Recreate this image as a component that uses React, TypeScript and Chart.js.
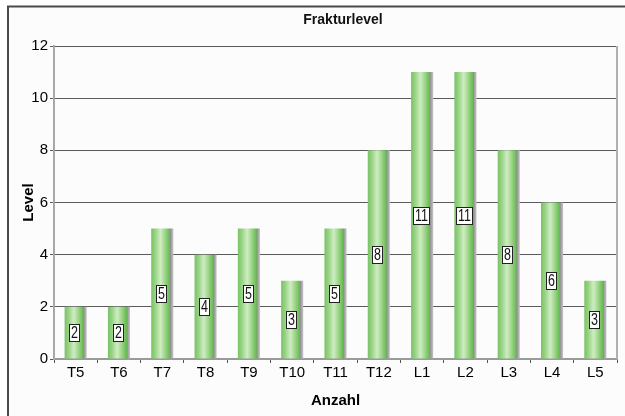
import React, { useEffect, useRef } from "react";
import { Chart, registerables } from "chart.js";

Chart.register(...registerables);

const categories = ["T5", "T6", "T7", "T8", "T9", "T10", "T11", "T12", "L1", "L2", "L3", "L4", "L5"];
const levels = [2, 2, 5, 4, 5, 3, 5, 8, 11, 11, 8, 6, 3];
const yMin = 0;
const yMax = 12;
const yStep = 2;
const chartTitle = "Frakturlevel";
const xTitle = "Anzahl";
const yTitle = "Level";

const FONT = "'Liberation Sans', Arial, Helvetica, sans-serif";
const BAR_PCT = 0.51;

function barGradient(c: any) {
  const chart = c.chart;
  const area = chart.chartArea;
  const xs = chart.scales && chart.scales.x;
  if (!area || !xs || c.dataIndex === undefined) return "#8fd07c";
  const cx = xs.getPixelForValue(c.dataIndex);
  const w = (area.width / categories.length) * BAR_PCT;
  const x0 = cx - w / 2;
  const g = chart.ctx.createLinearGradient(x0, 0, x0 + w, 0);
  g.addColorStop(0, "#78c265");
  g.addColorStop(0.18, "#97d383");
  g.addColorStop(0.42, "#cfecc3");
  g.addColorStop(0.6, "#a3d98f");
  g.addColorStop(0.84, "#68ba54");
  g.addColorStop(0.86, "#8f8f8f");
  g.addColorStop(1, "#c4c4c4");
  return g;
}

const decorPlugin = {
  id: "decor",
  beforeDraw(chart: any) {
    const { ctx, width, height } = chart;
    ctx.save();
    ctx.fillStyle = "#ffffff";
    ctx.fillRect(0, 0, width, height);
    ctx.fillStyle = "#fcfcfc";
    ctx.fillRect(8, 6, width - 8, height - 6);
    ctx.strokeStyle = "#4a4a4a";
    ctx.lineWidth = 2;
    ctx.beginPath();
    ctx.moveTo(width, 6.5);
    ctx.lineTo(8, 6.5);
    ctx.lineTo(8, height);
    ctx.stroke();
    ctx.restore();
  },
  afterDatasetsDraw(chart: any) {
    const { ctx, chartArea } = chart;
    ctx.save();
    ctx.strokeStyle = "#b0b0b0";
    ctx.lineWidth = 2;
    ctx.beginPath();
    ctx.moveTo(chartArea.right, chartArea.top);
    ctx.lineTo(chartArea.right, chartArea.bottom);
    ctx.stroke();

    const meta = chart.getDatasetMeta(0);
    const sx = 0.78;
    ctx.font = `16px ${FONT}`;
    ctx.textAlign = "center";
    ctx.textBaseline = "middle";
    meta.data.forEach((el: any, i: number) => {
      const v = levels[i];
      const text = String(v);
      const yMid = chart.scales.y.getPixelForValue(v / 2);
      const cx = el.x - el.width * 0.06;
      const tw = ctx.measureText(text).width * sx;
      const bw = Math.round(tw + 3);
      const bh = 17;
      const bx = Math.round(cx - bw / 2) + 0.5;
      const by = Math.round(yMid - bh / 2) + 0.5;
      ctx.fillStyle = "#ffffff";
      ctx.fillRect(bx, by, bw, bh);
      ctx.strokeStyle = "#222";
      ctx.lineWidth = 1;
      ctx.strokeRect(bx, by, bw, bh);
      ctx.fillStyle = "#111";
      ctx.save();
      ctx.translate(bx + bw / 2, by + bh / 2 + 1);
      ctx.scale(sx, 1);
      ctx.fillText(text, 0, 0);
      ctx.restore();
    });
    ctx.restore();
  },
  afterDraw(chart: any) {
    const { ctx } = chart;
    ctx.save();
    ctx.font = `bold 14px ${FONT}`;
    ctx.fillStyle = "#111";
    ctx.textAlign = "center";
    ctx.textBaseline = "middle";
    ctx.fillText(chartTitle, 343, 20);
    ctx.restore();
  },
};

export default function App() {
  const ref = useRef<HTMLCanvasElement | null>(null);

  useEffect(() => {
    if (!ref.current) return;
    const chart = new Chart(ref.current, {
      type: "bar",
      data: {
        labels: categories,
        datasets: [
          {
            data: levels,
            backgroundColor: barGradient,
            borderWidth: 0,
            barPercentage: BAR_PCT,
            categoryPercentage: 1,
          },
        ],
      },
      options: {
        responsive: false,
        animation: false,
        devicePixelRatio: 1,
        layout: { padding: { left: 8, right: 8, top: 46, bottom: 0 } },
        plugins: {
          legend: { display: false },
          tooltip: { enabled: false },
          title: { display: false },
        },
        scales: {
          x: {
            grid: {
              offset: true,
              drawOnChartArea: false,
              drawTicks: true,
              tickLength: 4,
              color: "#555",
            },
            border: { display: true, color: "#9a9a9a", width: 2 },
            ticks: {
              color: "#000",
              font: { family: FONT, size: 15 },
              padding: 1,
              maxRotation: 0,
              autoSkip: false,
            },
            title: {
              display: true,
              text: xTitle,
              color: "#000",
              font: { family: FONT, size: 15, weight: "bold" },
              padding: { top: 0, bottom: 6 },
            },
            afterFit(scale: any) {
              scale.height = 57;
            },
          },
          y: {
            min: yMin,
            max: yMax,
            ticks: {
              stepSize: yStep,
              color: "#000",
              font: { family: FONT, size: 15 },
              padding: 2,
            },
            grid: {
              color: "#5a5a5a",
              lineWidth: 1,
              tickLength: 4,
              drawTicks: true,
            },
            border: { display: true, color: "#a8a8a8", width: 2 },
            title: {
              display: true,
              text: yTitle,
              color: "#000",
              font: { family: FONT, size: 15, weight: "bold" },
              padding: { top: 12, bottom: 0 },
            },
            afterFit(scale: any) {
              scale.width = 46;
            },
          },
        },
      },
      plugins: [decorPlugin],
    });
    return () => chart.destroy();
  }, []);

  return (
    <div style={{ position: "fixed", left: 0, top: 0, width: 625, height: 416 }}>
      <canvas ref={ref} width={625} height={416} style={{ display: "block" }} />
    </div>
  );
}
